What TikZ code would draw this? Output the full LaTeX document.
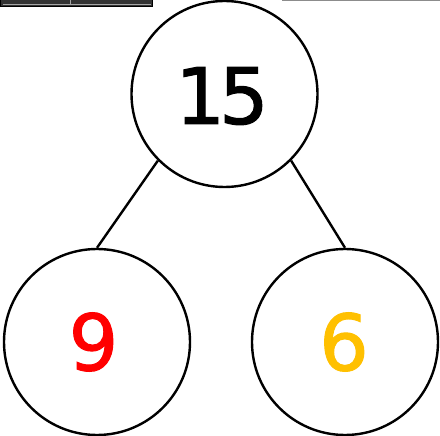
\documentclass[tikz,border=0pt]{standalone}
\usepackage{fontspec}
\setmainfont{DejaVu Sans}[BoldFont=DejaVu Sans, BoldFeatures={FakeBold=1.3}]
\definecolor{numred}{RGB}{255,0,0}
\definecolor{numgold}{RGB}{255,192,0}
\begin{document}
\begin{tikzpicture}[x=1pt,y=-1pt,
  bubble/.style={circle,draw=black,line width=2.4pt,minimum size=186pt,inner sep=0pt},
  num/.style={font=\fontsize{78}{78}\selectfont\bfseries},
  link/.style={line width=2.4pt}]
\useasboundingbox (0,0) rectangle (440,436);
% partial frames at the top edge
\draw[black,line width=1.2pt,fill=black!80] (0.6,-3) rectangle (152.4,6.4);
\draw[white!65!black,line width=0.8pt] (2.5,4.3) -- (150.5,4.3);
\draw[white!65!black,line width=0.8pt] (70,-1) -- (70,4.3);
\draw[black!45,line width=1.5pt] (282,0.5) -- (440,0.5);
% bubbles
\node[bubble] (top) at (224.5,94) {};
\node[bubble] (left) at (97,342) {};
\node[bubble] (right) at (345,342) {};
\node[num,text=black] (t15) at (222,96) {1\kern-6pt 5};
\node[num,text=numred] (t9) at (93.5,342) {9};
\node[num,text=numgold] (t6) at (344,342) {6};
\draw[link] (top.225) -- (left.north);
\draw[link] (top.315) -- (right.north);
\end{tikzpicture}
\end{document}
